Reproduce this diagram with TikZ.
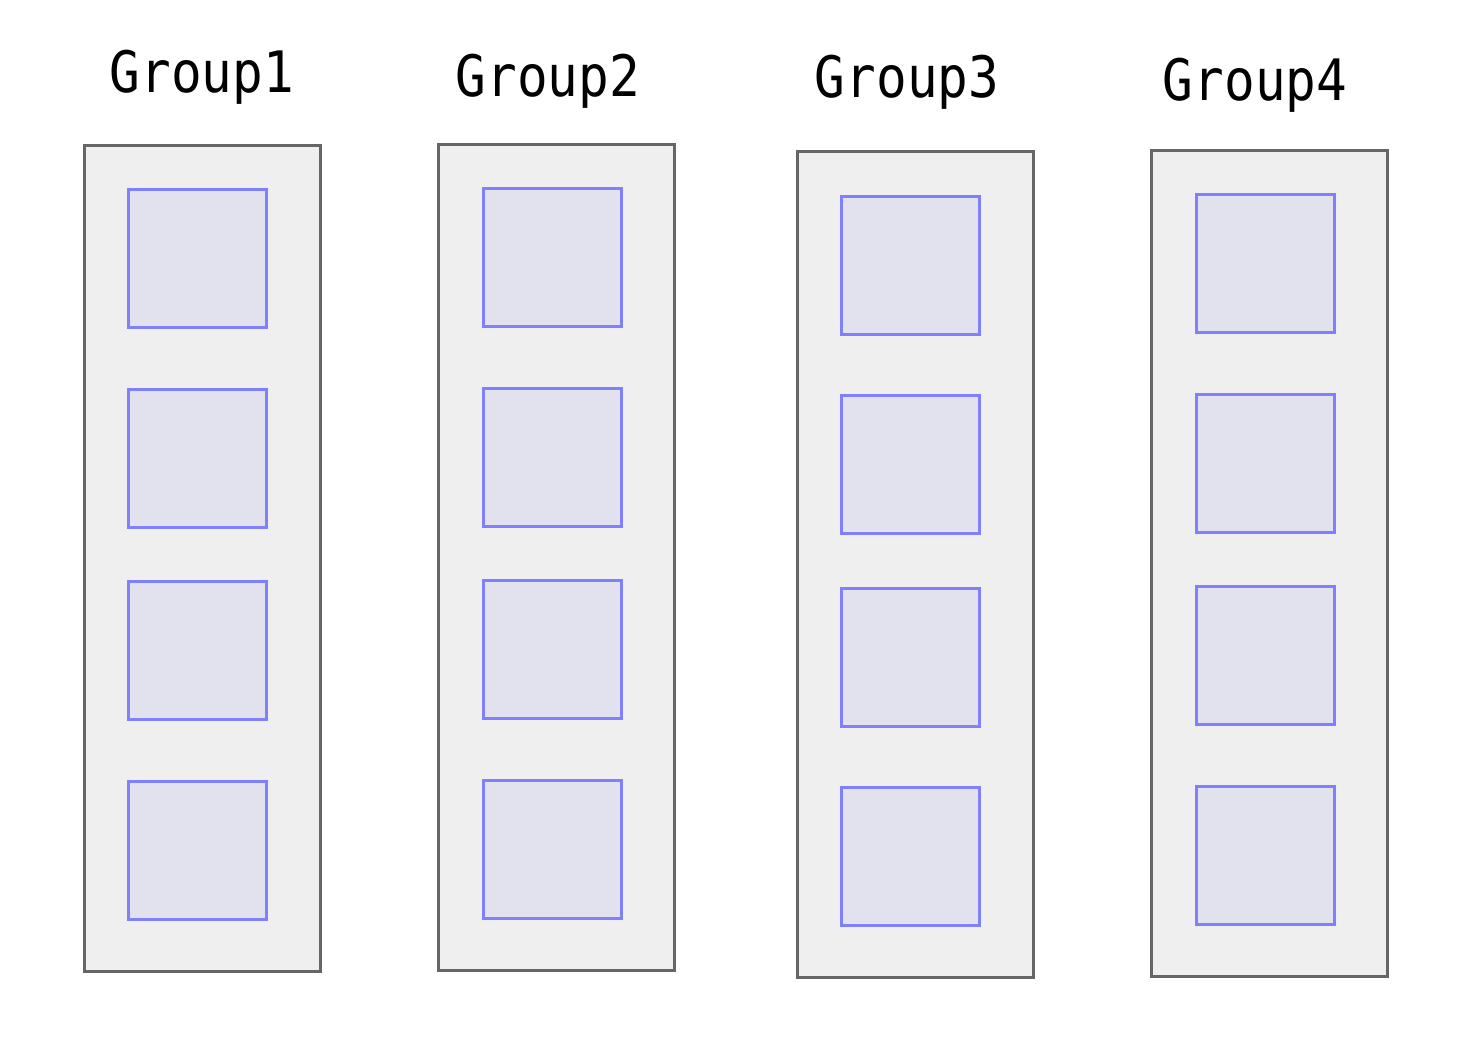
\documentclass[tikz,border=0pt]{standalone}
\usepackage{fontspec}
\newfontfamily\labelfont{DejaVu Sans Mono}
\definecolor{outerfill}{HTML}{EFEFEF}
\definecolor{outerdraw}{HTML}{666666}
\definecolor{innerfill}{HTML}{E2E2EE}
\definecolor{innerdraw}{HTML}{8080FF}
\begin{document}
\begin{tikzpicture}[x=1pt,y=-1pt,
  outerbox/.style={draw=outerdraw, fill=outerfill, line width=3pt, inner sep=0pt,
    minimum width=236pt, minimum height=826pt, anchor=north west},
  innerbox/.style={draw=innerdraw, fill=innerfill, line width=3pt, inner sep=0pt,
    minimum width=138pt, minimum height=138pt, anchor=north west},
  grouplabel/.style={anchor=base, inner sep=0pt, yscale=1.12, transform shape,
    font=\labelfont\fontsize{51}{60}\selectfont}]
\useasboundingbox (0,0) rectangle (1469,1058);
\foreach \n/\ox/\oy/\ix/\ta/\tb/\tc/\td/\lx/\ly in {
  1/83/144/127/188/388/580/780/202/92,
  2/437/143/482/187/387/579/779/548/96,
  3/796/150/840/195/394/587/786/907/97,
  4/1150/149/1195/193/393/585/785/1255/100}{
  \node[outerbox] (g\n) at (\ox,\oy) {};
  \node[innerbox] (g\n b1) at (\ix,\ta) {};
  \node[innerbox] (g\n b2) at (\ix,\tb) {};
  \node[innerbox] (g\n b3) at (\ix,\tc) {};
  \node[innerbox] (g\n b4) at (\ix,\td) {};
  \node[grouplabel] (l\n) at (\lx,\ly) {Group\n};
}
\end{tikzpicture}
\end{document}
